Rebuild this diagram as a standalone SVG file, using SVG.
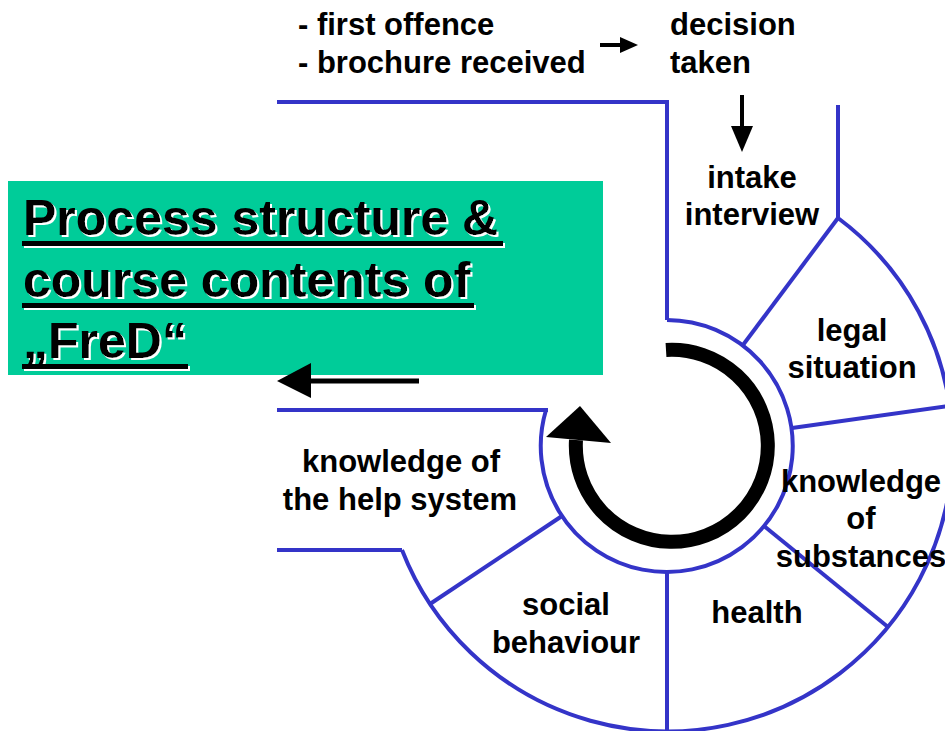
<svg xmlns="http://www.w3.org/2000/svg" width="945" height="731" viewBox="0 0 945 731">
<style>
.lbl{font-family:"Liberation Sans",Arial,sans-serif;font-weight:bold;font-size:31px;fill:#000}
.mid{text-anchor:middle}
.ttl{font-family:"Liberation Sans",Arial,sans-serif;font-weight:bold;font-size:50px;fill:#000}
.blue{fill:none;stroke:#3434c8;stroke-width:4}
</style>
<defs>
<filter id="wshadow" x="-5%" y="-10%" width="110%" height="130%">
<feOffset in="SourceAlpha" dx="2" dy="2" result="off"/>
<feFlood flood-color="#fff"/>
<feComposite in2="off" operator="in" result="sh"/>
<feMerge><feMergeNode in="sh"/><feMergeNode in="SourceGraphic"/></feMerge>
</filter>
</defs>
<rect x="0" y="0" width="945" height="731" fill="#fff"/>
<g id="title">
<rect x="8" y="181" width="595" height="194" fill="#00cc99"/>
<g filter="url(#wshadow)">
<text class="ttl" x="23" y="235">Process structure &amp;</text>
<text class="ttl" x="23" y="297">course contents of</text>
<text class="ttl" x="23" y="358">„FreD“</text>
<rect x="22" y="241" width="481" height="5" fill="#000"/>
<rect x="22" y="303" width="452" height="5" fill="#000"/>
<rect x="22" y="364" width="166" height="5" fill="#000"/>
</g>
</g>
<g id="connectors">
<path class="blue" d="M277 102 H667 V320"/>
<path class="blue" d="M838 105 V218"/>
<path class="blue" d="M277 410 H548"/>
<path class="blue" d="M277 550 H402"/>
<path class="blue" d="M546 410 A126 126 0 1 0 667 320"/>
<path class="blue" d="M402 550 A285 285 0 1 0 838 218"/>
<path class="blue" d="M838 218 L743 345"/>
<path class="blue" d="M792 428 L949 406"/>
<path class="blue" d="M764 526 L888 627"/>
<path class="blue" d="M667 572 V731"/>
<path class="blue" d="M562 516 L430 604"/>
<path d="M666 350 A96 96 0 1 1 576 440" fill="none" stroke="#000" stroke-width="14"/>
<polygon points="580,406 546,437 611,443" fill="#000"/>
<line x1="600" y1="45" x2="622" y2="45" stroke="#000" stroke-width="4"/>
<polygon points="620,37 638,45 620,53" fill="#000"/>
<line x1="742" y1="95" x2="742" y2="128" stroke="#000" stroke-width="4"/>
<polygon points="731,126 753,126 742,152" fill="#000"/>
<line x1="309" y1="381" x2="419" y2="381" stroke="#000" stroke-width="5"/>
<polygon points="277,381 311,363 311,398" fill="#000"/>
</g>
<g id="preconditions">
<text class="lbl" x="298" y="35">- first offence</text>
<text class="lbl" x="298" y="73">- brochure received</text>
</g>
<g id="decision">
<text class="lbl" x="670" y="35">decision</text>
<text class="lbl" x="670" y="73">taken</text>
</g>
<g id="intake">
<text class="lbl mid" x="752" y="188">intake</text>
<text class="lbl mid" x="752" y="225">interview</text>
</g>
<g id="legal">
<text class="lbl mid" x="852" y="341">legal</text>
<text class="lbl mid" x="852" y="378">situation</text>
</g>
<g id="substances">
<text class="lbl mid" x="861" y="492">knowledge</text>
<text class="lbl mid" x="861" y="529">of</text>
<text class="lbl mid" x="861" y="567">substances</text>
</g>
<g id="health">
<text class="lbl mid" x="757" y="623">health</text>
</g>
<g id="social">
<text class="lbl mid" x="566" y="615">social</text>
<text class="lbl mid" x="566" y="653">behaviour</text>
</g>
<g id="helpsystem">
<text class="lbl mid" x="401" y="472">knowledge of</text>
<text class="lbl mid" x="400" y="510">the help system</text>
</g>
</svg>
